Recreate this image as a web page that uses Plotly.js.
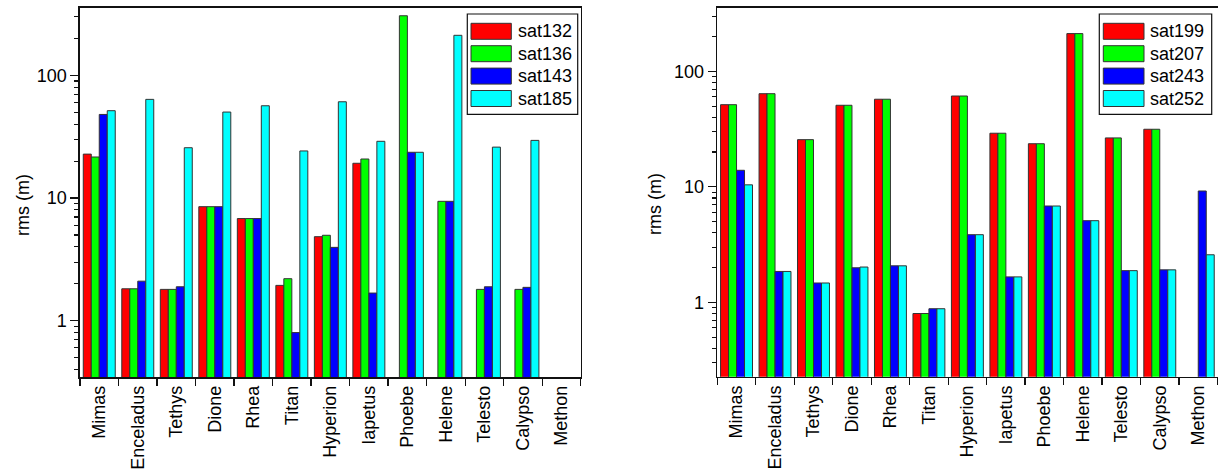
<!DOCTYPE html>
<html>
<head>
<meta charset="utf-8">
<script src="https://cdn.plot.ly/plotly-3.0.1.min.js"></script>
<style>
html,body{margin:0;padding:0;background:#fff;}
#chart{width:1218px;height:470px;}
</style>
</head>
<body>
<div id="chart"></div>
<script>
// ---- data ----
const categories = ["Mimas","Enceladus","Tethys","Dione","Rhea","Titan","Hyperion","Iapetus","Phoebe","Helene","Telesto","Calypso","Methon"];

const namesLeft = ["sat132","sat136","sat143","sat185"];
const sat132 = [22.8, 1.82, 1.80, 8.5, 6.8, 1.94, 4.84, 19.2, null, null, null, null, null];
const sat136 = [21.6, 1.82, 1.80, 8.5, 6.8, 2.2, 4.97, 20.8, 306, 9.4, 1.80, 1.80, null];
const sat143 = [48, 2.1, 1.89, 8.5, 6.8, 0.80, 3.96, 1.68, 23.6, 9.4, 1.89, 1.87, null];
const sat185 = [51.5, 63.7, 25.7, 50.2, 56.5, 24.2, 60.9, 29.0, 23.6, 212, 26.0, 29.5, null];

const namesRight = ["sat199","sat207","sat243","sat252"];
const sat199 = [51.4, 64.0, 25.6, 50.8, 57.3, 0.80, 61.1, 29.1, 23.6, 212, 26.5, 31.5, null];
const sat207 = [51.4, 64.0, 25.6, 50.8, 57.3, 0.80, 61.1, 29.1, 23.6, 212, 26.5, 31.5, null];
const sat243 = [13.9, 1.85, 1.47, 1.99, 2.07, 0.88, 3.85, 1.66, 6.82, 5.09, 1.88, 1.91, 9.2];
const sat252 = [10.4, 1.85, 1.47, 2.02, 2.07, 0.88, 3.85, 1.66, 6.82, 5.09, 1.88, 1.91, 2.58];

const majorTicks = [1, 10, 100];
const majorText = ["1", "10", "100"];
const minorTicks = [0.3,0.4,0.5,0.6,0.7,0.8,0.9,2,3,4,5,6,7,8,9,20,30,40,50,60,70,80,90,200,300];

// ---- style ----
const colors = ["#ff0000", "#00ff00", "#0000ff", "#00ffff"];
const W = 1218, H = 470;
const FONT = "Liberation Sans, Arial, sans-serif";
const px = v => v / W;
const py = v => 1 - v / H;

const leftSeries = [sat132, sat136, sat143, sat185];
const rightSeries = [sat199, sat207, sat243, sat252];

const traces = [];
leftSeries.forEach((vals, i) => traces.push({
  type: "bar", x: categories, y: vals, name: namesLeft[i], xaxis: "x", yaxis: "y",
  marker: {color: colors[i], line: {color: "#333", width: 1}}, showlegend: false
}));
rightSeries.forEach((vals, i) => traces.push({
  type: "bar", x: categories, y: vals, name: namesRight[i], xaxis: "x2", yaxis: "y2",
  marker: {color: colors[i], line: {color: "#333", width: 1}}, showlegend: false
}));

function xAxis(domain, anchor) {
  return {
    domain: domain, anchor: anchor, type: "category",
    showline: true, mirror: true, linecolor: "#111", linewidth: 1.6,
    ticks: "outside", tickson: "boundaries", ticklen: 7, tickwidth: 1.3, tickcolor: "#111",
    tickangle: -90, tickfont: {family: FONT, size: 18, color: "#000"},
    showgrid: false, zeroline: false, automargin: false, fixedrange: true
  };
}
function yAxis(domain, anchor, range) {
  return {
    domain: domain, anchor: anchor, type: "log", range: range,
    showline: true, mirror: true, linecolor: "#111", linewidth: 1.6,
    tickmode: "array", tickvals: majorTicks, ticktext: majorText,
    ticks: "outside", ticklen: 8, tickwidth: 1.3, tickcolor: "#111",
    tickfont: {family: FONT, size: 18, color: "#000"},
    minor: {tickmode: "array", tickvals: minorTicks, ticks: "outside", ticklen: 4, tickwidth: 1.1, tickcolor: "#111", showgrid: false},
    showgrid: false, zeroline: false, automargin: false, fixedrange: true
  };
}

const shapes = [], annotations = [];
function addLegend(names, boxL, boxR, top, bottom, swL, swR, textX) {
  shapes.push({type: "rect", xref: "paper", yref: "paper", x0: px(boxL), x1: px(boxR), y0: py(bottom), y1: py(top),
    line: {color: "#111", width: 1.2}, fillcolor: "rgba(255,255,255,1)", layer: "above"});
  names.forEach((n, i) => {
    const cy = 31.3 + i * 22.4;
    shapes.push({type: "rect", xref: "paper", yref: "paper", x0: px(swL), x1: px(swR), y0: py(cy + 8), y1: py(cy - 8),
      line: {color: "#333", width: 1}, fillcolor: colors[i], layer: "above"});
    annotations.push({xref: "paper", yref: "paper", x: px(textX), y: py(cy), xanchor: "left", yanchor: "middle",
      text: n, showarrow: false, font: {family: FONT, size: 18, color: "#000"}});
  });
}
addLegend(namesLeft, 467.3, 577.7, 14, 114.3, 471, 511.3, 515.5);
addLegend(namesRight, 1099.3, 1211.7, 14, 114.3, 1103.3, 1144, 1147.5);

annotations.push({xref: "paper", yref: "paper", x: px(23), y: py(205), text: "rms (m)", textangle: -90,
  showarrow: false, xanchor: "center", yanchor: "middle", font: {family: FONT, size: 18, color: "#000"}});
annotations.push({xref: "paper", yref: "paper", x: px(655), y: py(204), text: "rms (m)", textangle: -90,
  showarrow: false, xanchor: "center", yanchor: "middle", font: {family: FONT, size: 18, color: "#000"}});

const layout = {
  width: W, height: H,
  margin: {l: 0, r: 0, t: 0, b: 0},
  paper_bgcolor: "#fff", plot_bgcolor: "#fff",
  barmode: "group", bargap: 0.17, bargroupgap: 0,
  showlegend: false,
  font: {family: FONT, size: 18, color: "#000"},
  xaxis: xAxis([px(80), px(580.7)], "y"),
  yaxis: yAxis([1 - 377 / H, 1 - 8 / H], "x", [-0.459, 2.549]),
  xaxis2: xAxis([px(717.3), px(1217.5)], "y2"),
  yaxis2: yAxis([1 - 376.7 / H, 1 - 8 / H], "x2", [-0.644, 2.548]),
  shapes: shapes, annotations: annotations
};

Plotly.newPlot("chart", traces, layout, {displayModeBar: false, staticPlot: true});
</script>
</body>
</html>
